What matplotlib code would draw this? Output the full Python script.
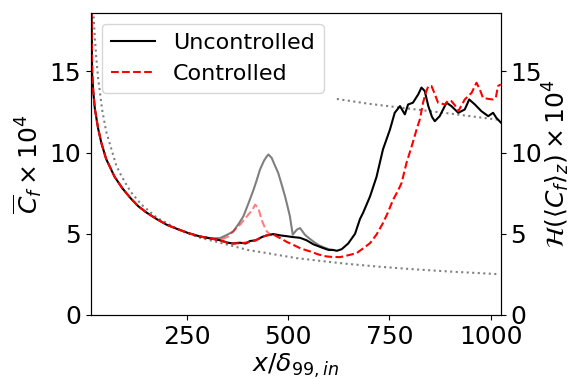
import numpy as np
from matplotlib import pyplot as plt

# skin friction, uncontrolled (black)
x_unc = [12, 13, 15.5, 18, 22, 30, 38, 50, 71, 90, 110, 129, 150, 175, 200, 225,
         252, 282, 310, 331, 350, 364, 380, 395, 405, 420, 435, 447, 463, 480,
         496, 510, 529, 545, 562, 586, 600, 611, 620, 632, 648, 665, 677, 685,
         702, 718, 734, 751, 763, 776, 788, 796, 808, 821, 829, 837, 846, 855,
         862, 874, 891, 903, 920, 936, 947, 961, 977, 994, 1006, 1014, 1025]
cf_unc = [10.2, 19.5, 14.8, 13.8, 12.7, 11.5, 10.6, 9.6, 8.5, 7.8, 7.2, 6.7, 6.3,
          5.9, 5.55, 5.3, 5.05, 4.83, 4.7, 4.6, 4.45, 4.4, 4.45, 4.4, 4.55, 4.6,
          4.8, 4.9, 4.98, 4.9, 4.85, 4.8, 4.75, 4.6, 4.35, 4.12, 4.0, 4.0, 3.95,
          4.05, 4.4, 5.0, 5.9, 6.3, 7.3, 8.5, 10.2, 11.4, 12.45, 12.86, 12.35,
          12.96, 13.07, 13.58, 14.0, 13.8, 12.86, 12.2, 11.93, 12.24, 13.07,
          12.86, 12.45, 12.65, 13.27, 12.96, 12.55, 12.24, 12.45, 12.14, 11.85]

# skin friction, controlled (red dashed)
x_con = [12, 13, 15.5, 18, 22, 30, 38, 50, 71, 90, 110, 129, 150, 175, 200, 225,
         252, 282, 310, 331, 350, 364, 380, 395, 405, 420, 435, 447, 463, 480,
         496, 512, 530, 554, 575, 595, 610, 628, 652, 669, 685, 702, 718, 734,
         746, 759, 770, 780, 792, 805, 817, 825, 833, 840, 846, 854, 862, 870,
         887, 895, 903, 912, 920, 928, 936, 953, 965, 973, 981, 995, 1006, 1013,
         1018, 1025]
cf_con = [10.2, 19.5, 14.8, 13.8, 12.7, 11.5, 10.6, 9.6, 8.5, 7.8, 7.2, 6.7, 6.3,
          5.9, 5.55, 5.3, 5.05, 4.83, 4.7, 4.6, 4.45, 4.4, 4.42, 4.45, 4.5, 4.6,
          4.8, 4.9, 4.95, 4.73, 4.5, 4.32, 4.1, 3.91, 3.72, 3.6, 3.57, 3.56, 3.7,
          3.81, 4.1, 4.42, 4.95, 5.66, 6.3, 7.1, 7.6, 8.13, 9.36, 10.39, 11.42,
          12.04, 13.07, 13.7, 14.09, 14.09, 13.6, 13.07, 12.96, 13.2, 13.17, 12.9,
          12.55, 12.9, 13.27, 13.68, 14.3, 13.9, 13.37, 13.3, 13.27, 13.4, 14.09,
          14.2]

# H(<Cf>_z), uncontrolled (grey) and controlled (light red)
x_h_unc = [282, 310, 331, 350, 364, 377, 389, 402, 414, 422, 430, 440, 447, 451,
           459, 467, 475, 484, 492, 498, 504, 511, 516, 521, 529, 535, 541, 550,
           562, 575, 586, 600, 611]
h_unc = [4.83, 4.72, 4.73, 4.95, 5.14, 5.6, 6.07, 6.9, 7.7, 8.3, 8.95, 9.5, 9.77,
         9.88, 9.67, 9.2, 8.75, 8.0, 7.3, 6.7, 6.07, 4.94, 5.1, 5.25, 5.35, 5.15,
         4.94, 4.75, 4.52, 4.3, 4.18, 4.05, 4.0]
x_h_con = [282, 331, 352, 366, 381, 401, 412, 418, 426, 434, 440, 447, 455, 463]
h_con = [4.83, 4.62, 4.83, 5.2, 5.56, 6.17, 6.5, 6.79, 6.58, 5.86, 5.5, 5.14,
         4.95, 4.95]

# reference correlations (grey dotted)
x_lam = [17, 20, 25, 30, 40, 50, 63, 75, 88, 110, 137, 175, 225, 275, 331, 400,
         447, 520, 600, 644, 720, 800, 900, 1022]
cf_lam = [19.4, 17.9, 16.0, 14.6, 12.65, 11.3, 10.2, 9.2, 8.54, 7.6, 6.8, 6.0,
          5.3, 4.8, 4.45, 4.0, 3.81, 3.5, 3.27, 3.15, 2.98, 2.83, 2.67, 2.51]
x_turb = [620, 700, 800, 900, 1025]
cf_turb = [13.3, 13.0, 12.7, 12.4, 12.0]

plt.rcParams['font.size'] = 18

fig = plt.figure(figsize=(5.71, 3.79), dpi=100)
ax = fig.add_axes([0.159, 0.169, 0.718, 0.797])
ax2 = ax.twinx()

ax.plot(x_lam, cf_lam, ':', color='gray', lw=1.5)
ax.plot(x_turb, cf_turb, ':', color='gray', lw=1.5)
ax2.plot(x_h_unc, h_unc, '-', color='k', alpha=0.5, lw=1.5)
ax2.plot(x_h_con, h_con, '--', color='r', alpha=0.5, lw=1.5)
ax.plot(x_unc, cf_unc, '-', color='k', lw=1.5, label='Uncontrolled')
ax.plot(x_con, cf_con, '--', color='r', lw=1.5, label='Controlled')

for a in (ax, ax2):
    a.set_xlim(12, 1025)
    a.set_ylim(0, 18.6)
    a.set_yticks([0, 5, 10, 15])
ax.set_xticks([250, 500, 750, 1000])
ax.set_zorder(ax2.get_zorder() + 1)
ax.patch.set_visible(False)

ax.set_xlabel(r'$x/\delta_{99,in}$', labelpad=2)
ax.set_ylabel(r'$\overline{C}_f \times 10^4$')
ax2.set_ylabel(r'$\mathcal{H}(\langle C_f \rangle_z) \times 10^4$', labelpad=-1)
ax.legend(loc='upper left', fontsize=16)

fig.savefig('out.png', dpi=100)
